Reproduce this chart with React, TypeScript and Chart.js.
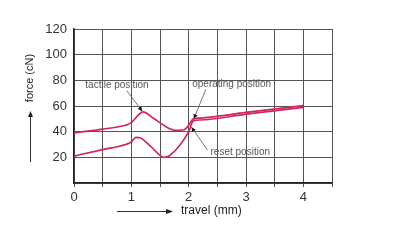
import React, { useEffect, useRef } from "react";
import { Chart, registerables } from "chart.js";

Chart.register(...registerables);

// forward stroke (tactile / operating)
const upperX = [0, 0.5, 0.9, 1.0, 1.1, 1.2, 1.4, 1.6, 1.78, 1.92, 2.0, 2.08, 2.2, 3, 4];
const upperY = [39, 42, 45, 47, 52, 55.5, 50, 44, 41, 41.5, 45, 50, 50.6, 55, 60.3];
// return stroke (reset)
const lowerX = [0, 0.5, 0.9, 1.0, 1.08, 1.16, 1.35, 1.57, 1.66, 2.0, 2.08, 2.2, 3, 4];
const lowerY = [21, 26, 30, 32, 35.5, 35, 28, 20, 21, 40, 48.4, 49.1, 53.6, 59];

const xTickLabels = ["0", "1", "2", "3", "4"];
const yTickLabels = ["20", "40", "60", "80", "100", "120"];

// annotations: label, text centre (x,y), pointer from (x,y) to (x,y)
const annLabels = ["tactile position", "operating position", "reset position"];
const annTextX = [0.75, 2.75, 2.9];
const annTextY = [76, 77, 24];
const annFromX = [0.92, 2.3, 2.33];
const annFromY = [72, 73, 25.5];
const annToX = [1.19, 2.09, 2.05];
const annToY = [56, 50, 43.5];

const FONT = "'Liberation Sans', Arial, sans-serif";
const RED = "#d0265a";

const overlay = {
  id: "overlay",
  afterDraw(chart: any) {
    const ctx = chart.ctx;
    const xs = chart.scales.x;
    const ys = chart.scales.y;
    ctx.save();
    // annotations
    for (let i = 0; i < annLabels.length; i++) {
      const fx = xs.getPixelForValue(annFromX[i]);
      const fy = ys.getPixelForValue(annFromY[i]);
      const tx = xs.getPixelForValue(annToX[i]);
      const ty = ys.getPixelForValue(annToY[i]);
      ctx.strokeStyle = "#777";
      ctx.lineWidth = 1;
      ctx.beginPath();
      ctx.moveTo(fx, fy);
      ctx.lineTo(tx, ty);
      ctx.stroke();
      const a = Math.atan2(ty - fy, tx - fx);
      ctx.fillStyle = "#111";
      ctx.beginPath();
      ctx.moveTo(tx, ty);
      ctx.lineTo(tx - 5 * Math.cos(a - 0.45), ty - 5 * Math.sin(a - 0.45));
      ctx.lineTo(tx - 5 * Math.cos(a + 0.45), ty - 5 * Math.sin(a + 0.45));
      ctx.closePath();
      ctx.fill();
      ctx.fillStyle = "#555";
      ctx.font = `10px ${FONT}`;
      ctx.textAlign = "center";
      ctx.textBaseline = "middle";
      ctx.fillText(annLabels[i], xs.getPixelForValue(annTextX[i]), ys.getPixelForValue(annTextY[i]));
    }
    // axis titles
    ctx.fillStyle = "#222";
    ctx.font = `12px ${FONT}`;
    ctx.textAlign = "left";
    ctx.textBaseline = "middle";
    ctx.fillText("travel (mm)", 181, 211);
    ctx.save();
    ctx.translate(30, 78);
    ctx.rotate(-Math.PI / 2);
    ctx.textAlign = "center";
    ctx.font = `11px ${FONT}`;
    ctx.fillText("force (cN)", 0, 0);
    ctx.restore();
    // arrows
    ctx.strokeStyle = "#333";
    ctx.fillStyle = "#222";
    ctx.lineWidth = 1;
    ctx.beginPath();
    ctx.moveTo(117, 211.5);
    ctx.lineTo(168, 211.5);
    ctx.stroke();
    ctx.beginPath();
    ctx.moveTo(173, 211.5);
    ctx.lineTo(166, 209);
    ctx.lineTo(166, 214);
    ctx.closePath();
    ctx.fill();
    ctx.beginPath();
    ctx.moveTo(30.5, 162);
    ctx.lineTo(30.5, 116);
    ctx.stroke();
    ctx.beginPath();
    ctx.moveTo(30.5, 111);
    ctx.lineTo(28, 117);
    ctx.lineTo(33, 117);
    ctx.closePath();
    ctx.fill();
    ctx.restore();
  },
};

export default function App() {
  const ref = useRef<HTMLCanvasElement | null>(null);
  useEffect(() => {
    if (!ref.current) return;
    const chart = new Chart(ref.current, {
      type: "line",
      data: {
        datasets: [
          {
            data: upperX.map((x, i) => ({ x, y: upperY[i] })),
            borderColor: RED,
            borderWidth: 1.7,
            pointRadius: 0,
            cubicInterpolationMode: "monotone",
            fill: false,
          },
          {
            data: lowerX.map((x, i) => ({ x, y: lowerY[i] })),
            borderColor: RED,
            borderWidth: 1.7,
            pointRadius: 0,
            cubicInterpolationMode: "monotone",
            fill: false,
          },
        ],
      },
      options: {
        animation: false,
        responsive: false,
        maintainAspectRatio: false,
        layout: { padding: { top: 29, right: 68, left: 0, bottom: 0 } },
        plugins: { legend: { display: false }, tooltip: { enabled: false } },
        scales: {
          x: {
            type: "linear",
            min: 0,
            max: 4.5,
            afterFit: (s: any) => {
              s.height = 57;
            },
            ticks: {
              stepSize: 0.5,
              autoSkip: false,
              maxRotation: 0,
              padding: 3,
              color: "#333",
              font: { size: 13, family: FONT },
              callback: (v: any) => {
                const idx = xTickLabels.indexOf(String(v));
                return idx >= 0 ? xTickLabels[idx] : "";
              },
            },
            grid: { color: "#555", lineWidth: 1, tickLength: 4 },
            border: { color: "#222", width: 1.5 },
          },
          y: {
            min: 0,
            max: 120,
            afterFit: (s: any) => {
              s.width = 74;
            },
            ticks: {
              stepSize: 20,
              padding: 7,
              color: "#333",
              font: { size: 13, family: FONT },
              callback: (v: any) => {
                const idx = yTickLabels.indexOf(String(v));
                return idx >= 0 ? yTickLabels[idx] : "";
              },
            },
            grid: { color: "#555", lineWidth: 1, drawTicks: false },
            border: { color: "#222", width: 1.5 },
          },
        },
      },
      plugins: [overlay],
    } as any);
    return () => chart.destroy();
  }, []);
  return (
    <div style={{ position: "fixed", left: 0, top: 0, width: 400, height: 240, background: "#fff" }}>
      <canvas ref={ref} width={400} height={240} style={{ width: 400, height: 240, display: "block" }} />
    </div>
  );
}
